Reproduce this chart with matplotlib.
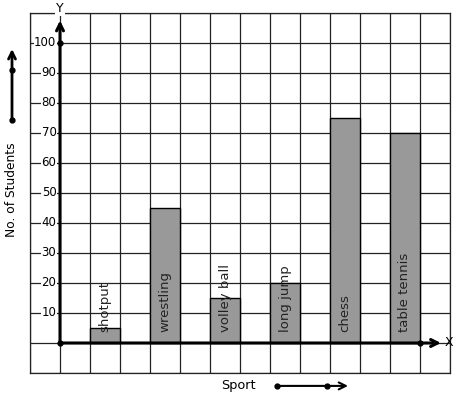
import numpy as np
import matplotlib.pyplot as plt

sports = ["shotput", "wrestling", "volley ball", "long jump", "chess", "table tennis"]
students = [5, 45, 15, 20, 75, 70]
y_ticks = [10, 20, 30, 40, 50, 60, 70, 80, 90, 100]

fig = plt.figure(figsize=(4.57, 3.99), dpi=100)
ax = fig.add_axes([30 / 457, 26 / 399, 420 / 457, 360 / 399])
ax.set_xlim(-1, 13)
ax.set_ylim(-10, 110)

# grid
ax.set_xticks(np.arange(-1, 14))
ax.set_yticks(np.arange(-10, 111, 10))
ax.grid(True, color="#222222", lw=0.9)
ax.set_axisbelow(True)
ax.tick_params(length=0, labelbottom=False, labelleft=False)
for s in ax.spines.values():
    s.set_linewidth(0.9)
    s.set_color("#222222")

# bars
xpos = [1 + 2 * i for i in range(len(sports))]
ax.bar(xpos, students, width=1, align="edge", color="#999999",
       edgecolor="black", lw=1, zorder=2)
for x, name in zip(xpos, sports):
    ax.text(x + 0.5, 3.6, name, rotation=90, ha="center", va="bottom",
            fontsize=9.5, color="#222222", zorder=3)

# y tick labels
for v in y_ticks:
    ax.text(-0.12, v, str(v), ha="right", va="center", fontsize=8.5,
            bbox=dict(facecolor="white", edgecolor="none", pad=0.3), zorder=3)

# axes with arrows
head = "->,head_length=0.5,head_width=0.25"
ax.annotate("", xy=(0, 107.5), xytext=(0, 0),
            arrowprops=dict(arrowstyle=head, lw=2.2, color="black", shrinkA=0, shrinkB=0),
            zorder=4)
ax.annotate("", xy=(12.7, 0), xytext=(0, 0),
            arrowprops=dict(arrowstyle=head, lw=2.2, color="black", shrinkA=0, shrinkB=0),
            zorder=4)
ax.plot([0, 0, 12], [0, 100, 0], "o", color="black", ms=3.5, zorder=5)
ax.text(0, 111.5, "Y", ha="center", va="center", fontsize=9,
        bbox=dict(facecolor="white", edgecolor="none", pad=0.5), zorder=5)
ax.text(12.95, 0, "X", ha="center", va="center", fontsize=9, clip_on=False)

# y axis title with arrow
ax.text(-1.6, 51, "No. of Students", rotation=90, ha="center", va="center",
        fontsize=8.8, clip_on=False)
ax.annotate("", xy=(-1.6, 98), xytext=(-1.6, 74.3), annotation_clip=False,
            arrowprops=dict(arrowstyle=head, lw=2, color="black", shrinkA=0, shrinkB=0))
ax.plot([-1.6, -1.6], [74.3, 91], "o", color="black", ms=3.5, clip_on=False)

# x axis title with arrow
ax.text(5.95, -14, "Sport", ha="center", va="center", fontsize=9.3, clip_on=False)
ax.annotate("", xy=(9.6, -14.3), xytext=(7.23, -14.3), annotation_clip=False,
            arrowprops=dict(arrowstyle=head, lw=1.5, color="black", shrinkA=0, shrinkB=0))
ax.plot([7.23, 8.9], [-14.3, -14.3], "o", color="black", ms=3.5, clip_on=False)

fig.savefig("out.png", dpi=100)
